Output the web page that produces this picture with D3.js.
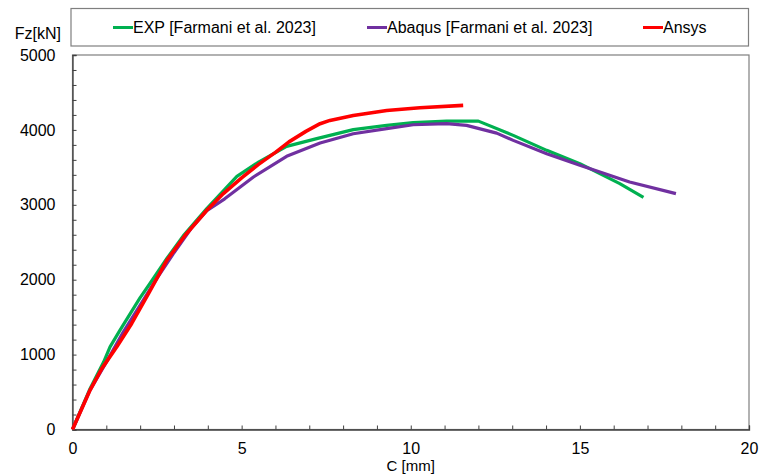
<!DOCTYPE html>
<html>
<head>
<meta charset="utf-8">
<script src="https://cdn.jsdelivr.net/npm/d3@7"></script>
<style>
  html, body { margin: 0; padding: 0; background: #fff; }
  svg { display: block; }
  text { font-family: "Liberation Sans", Arial, sans-serif; fill: #000; }
</style>
</head>
<body>
<svg id="chart" width="760" height="475"></svg>
<script>
// Load-displacement curves: axial force Fz [kN] against displacement C [mm]
const expC   = [0, 0.5, 0.92, 1.11, 1.41, 2.0, 2.29, 2.8, 3.3, 3.97, 4.86, 5.5, 6.33, 7.22, 8.3, 9.29, 10.07, 11.06, 12.0, 13.03, 14.02, 15.0, 16.18, 16.88];
const expF   = [0, 527, 900, 1104, 1330, 1760, 1949, 2290, 2600, 2950, 3380, 3570, 3780, 3883, 4003, 4060, 4096, 4117, 4117, 3927, 3727, 3549, 3283, 3100];

const abaqusC = [0, 0.5, 1.0, 1.5, 2.0, 2.5, 3.0, 3.5, 3.97, 4.5, 5.35, 6.33, 7.32, 8.3, 9.29, 10.07, 11.06, 11.65, 12.54, 13.03, 14.02, 15.0, 16.47, 17.84];
const abaqusF = [0, 510, 900, 1300, 1660, 2020, 2360, 2680, 2920, 3080, 3371, 3647, 3824, 3949, 4016, 4069, 4083, 4060, 3957, 3860, 3683, 3527, 3304, 3149];

const ansysC = [0, 0.52, 0.87, 1.31, 1.75, 2.25, 2.79, 3.33, 3.97, 4.46, 5.0, 5.5, 6.0, 6.4, 6.9, 7.32, 7.61, 8.3, 9.29, 10.27, 11.55];
const ansysF = [0, 527, 816, 1104, 1416, 1816, 2260, 2593, 2927, 3150, 3360, 3540, 3700, 3840, 3980, 4083, 4127, 4193, 4260, 4296, 4327];

const seriesNames = ["EXP [Farmani et al. 2023]", "Abaqus [Farmani et al. 2023]", "Ansys"];
const seriesColors = ["#00B050", "#7030A0", "#FF0000"];

const xTicks = [0, 5, 10, 15, 20];
const yTicks = [0, 1000, 2000, 3000, 4000, 5000];
const xLabel = "C [mm]";
const yLabel = "Fz[kN]";

const FONT = 16;
const FAMILY = '"Liberation Sans", Arial, sans-serif';
const svg = d3.select("#chart");
const plot = { left: 72.5, right: 749, top: 55, bottom: 429.5 };

const x = d3.scaleLinear().domain([0, 20]).range([plot.left, plot.right]);
const y = d3.scaleLinear().domain([0, 5000]).range([plot.bottom, plot.top]);

// plot frame
svg.append("rect")
  .attr("x", plot.left).attr("y", plot.top)
  .attr("width", plot.right - plot.left).attr("height", plot.bottom - plot.top)
  .attr("fill", "none").attr("stroke", "#7f7f7f").attr("stroke-width", 1.2);

// minor + major ticks pointing inward
const xAxis = d3.axisBottom(x).tickValues(d3.range(0, 21, 1)).tickSize(-4).tickFormat("");
const gx = svg.append("g").attr("transform", `translate(0,${plot.bottom})`).call(xAxis);
const yAxis = d3.axisLeft(y).tickValues(d3.range(0, 5001, 200)).tickSize(-4).tickFormat("");
const gy = svg.append("g").attr("transform", `translate(${plot.left},0)`).call(yAxis);
[gx, gy].forEach(g => {
  g.select(".domain").attr("stroke", "#404040").attr("stroke-width", 1.3);
  g.selectAll(".tick line").attr("stroke", "#404040").attr("stroke-width", 1);
});

// tick labels
const labelAxisX = d3.axisBottom(x).tickValues(xTicks).tickSize(0).tickPadding(13).tickFormat(d3.format("d"));
const gxl = svg.append("g").attr("transform", `translate(0,${plot.bottom})`).call(labelAxisX);
const labelAxisY = d3.axisLeft(y).tickValues(yTicks).tickSize(0).tickPadding(17).tickFormat(d3.format("d"));
const gyl = svg.append("g").attr("transform", `translate(${plot.left},0)`).call(labelAxisY);
[gxl, gyl].forEach(g => {
  g.select(".domain").remove();
  g.selectAll("text").attr("font-size", FONT).attr("font-family", FAMILY).attr("fill", "#000");
});

// axis titles
svg.append("text").attr("x", (plot.left + plot.right) / 2).attr("y", 471)
  .attr("text-anchor", "middle").attr("font-size", 15).text(xLabel);
svg.append("text").attr("x", 61).attr("y", 39)
  .attr("text-anchor", "end").attr("font-size", FONT).text(yLabel);

// curves
const line = d3.line().x(d => x(d[0])).y(d => y(d[1]));
const series = [
  d3.zip(expC, expF),
  d3.zip(abaqusC, abaqusF),
  d3.zip(ansysC, ansysF)
];
const widths = [3.2, 3.2, 3.6];
series.forEach((pts, i) => {
  svg.append("path").datum(pts)
    .attr("d", line)
    .attr("fill", "none")
    .attr("stroke", seriesColors[i])
    .attr("stroke-width", widths[i])
    .attr("stroke-linejoin", "round");
});

// legend
svg.append("rect")
  .attr("x", 71).attr("y", 8.5).attr("width", 677.5).attr("height", 37.5)
  .attr("fill", "#fff").attr("stroke", "#7f7f7f").attr("stroke-width", 1.2);
const legendX = [113, 367, 643];
seriesNames.forEach((name, i) => {
  svg.append("line")
    .attr("x1", legendX[i]).attr("x2", legendX[i] + 20)
    .attr("y1", 27.5).attr("y2", 27.5)
    .attr("stroke", seriesColors[i]).attr("stroke-width", 3);
  svg.append("text")
    .attr("x", legendX[i] + 20).attr("y", 33)
    .attr("font-size", FONT).text(name);
});
</script>
</body>
</html>
